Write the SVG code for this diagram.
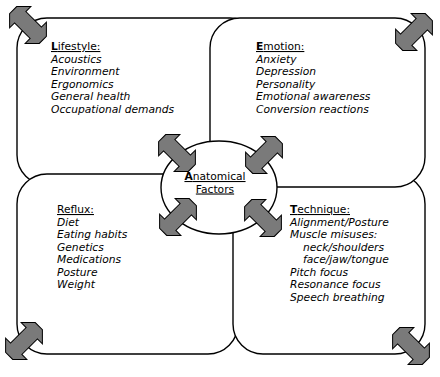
<svg xmlns="http://www.w3.org/2000/svg" width="440" height="377" viewBox="0 0 440 377">
<style>
.box{fill:#fff;stroke:#000;stroke-width:1.4}
.arr{fill:#7a7a7a;stroke:#000;stroke-width:1;stroke-linejoin:miter}
text{font-family:"DejaVu Sans","Liberation Sans",sans-serif;font-size:10.7px;fill:#000}
.h{text-decoration:underline}
.i{font-style:italic}
.b{font-weight:bold}
</style>
<defs>
<polygon id="dbl" points="21,-5 21,5 11,15 11,8 -11,8 -11,15 -21,5 -21,-5 -11,-15 -11,-8 11,-8 11,-15"/>
</defs>
<rect width="440" height="377" fill="#fff"/>
<g id="lifestyle">
<rect class="box" x="17" y="18" width="243" height="167" rx="30" ry="30"/>
<text x="51" y="50" class="h"><tspan class="b">L</tspan>ifestyle:</text>
<text class="i"><tspan x="51" y="62.5">Acoustics</tspan><tspan x="51" y="75">Environment</tspan><tspan x="51" y="87.5">Ergonomics</tspan><tspan x="51" y="100">General health</tspan><tspan x="51" y="112.5">Occupational demands</tspan></text>
</g>
<g id="reflux">
<rect class="box" x="17" y="174" width="221" height="180" rx="30" ry="30"/>
<text x="57" y="213" class="h">Reflux:</text>
<text class="i"><tspan x="57" y="225.5">Diet</tspan><tspan x="57" y="238">Eating habits</tspan><tspan x="57" y="250.5">Genetics</tspan><tspan x="57" y="263">Medications</tspan><tspan x="57" y="275.5">Posture</tspan><tspan x="57" y="288">Weight</tspan></text>
</g>
<g id="technique">
<rect class="box" x="233" y="174" width="192" height="180" rx="30" ry="30"/>
<text x="290" y="213" class="h"><tspan class="b">T</tspan>echnique:</text>
<text class="i"><tspan x="290" y="225.5">Alignment/Posture</tspan><tspan x="290" y="238">Muscle misuses:</tspan><tspan x="303" y="250.5">neck/shoulders</tspan><tspan x="303" y="263">face/jaw/tongue</tspan><tspan x="290" y="275.5">Pitch focus</tspan><tspan x="290" y="288">Resonance focus</tspan><tspan x="290" y="300.5">Speech breathing</tspan></text>
</g>
<g id="emotion">
<rect class="box" x="210" y="18" width="215" height="169" rx="30" ry="30"/>
<text x="256" y="50" class="h"><tspan class="b">E</tspan>motion:</text>
<text class="i"><tspan x="256" y="62.5">Anxiety</tspan><tspan x="256" y="75">Depression</tspan><tspan x="256" y="87.5">Personality</tspan><tspan x="256" y="100">Emotional awareness</tspan><tspan x="256" y="112.5">Conversion reactions</tspan></text>
</g>
<g id="anatomical">
<ellipse class="box" cx="219" cy="187.5" rx="58" ry="46.5"/>
<text x="215" y="180" class="h" text-anchor="middle"><tspan class="b">A</tspan>natomical</text>
<text x="215" y="192.5" class="h" text-anchor="middle">Factors</text>
</g>
<g id="connectors">
<use href="#dbl" class="arr" transform="translate(28,25) rotate(45)"/>
<use href="#dbl" class="arr" transform="translate(414,32) rotate(-45)"/>
<use href="#dbl" class="arr" transform="translate(24,341) rotate(-45)"/>
<use href="#dbl" class="arr" transform="translate(411,346) rotate(45)"/>
<use href="#dbl" class="arr" transform="translate(177,153) rotate(45)"/>
<use href="#dbl" class="arr" transform="translate(264,155) rotate(-45)"/>
<use href="#dbl" class="arr" transform="translate(178,217) rotate(-45)"/>
<use href="#dbl" class="arr" transform="translate(263,218) rotate(45)"/>
</g>
</svg>
